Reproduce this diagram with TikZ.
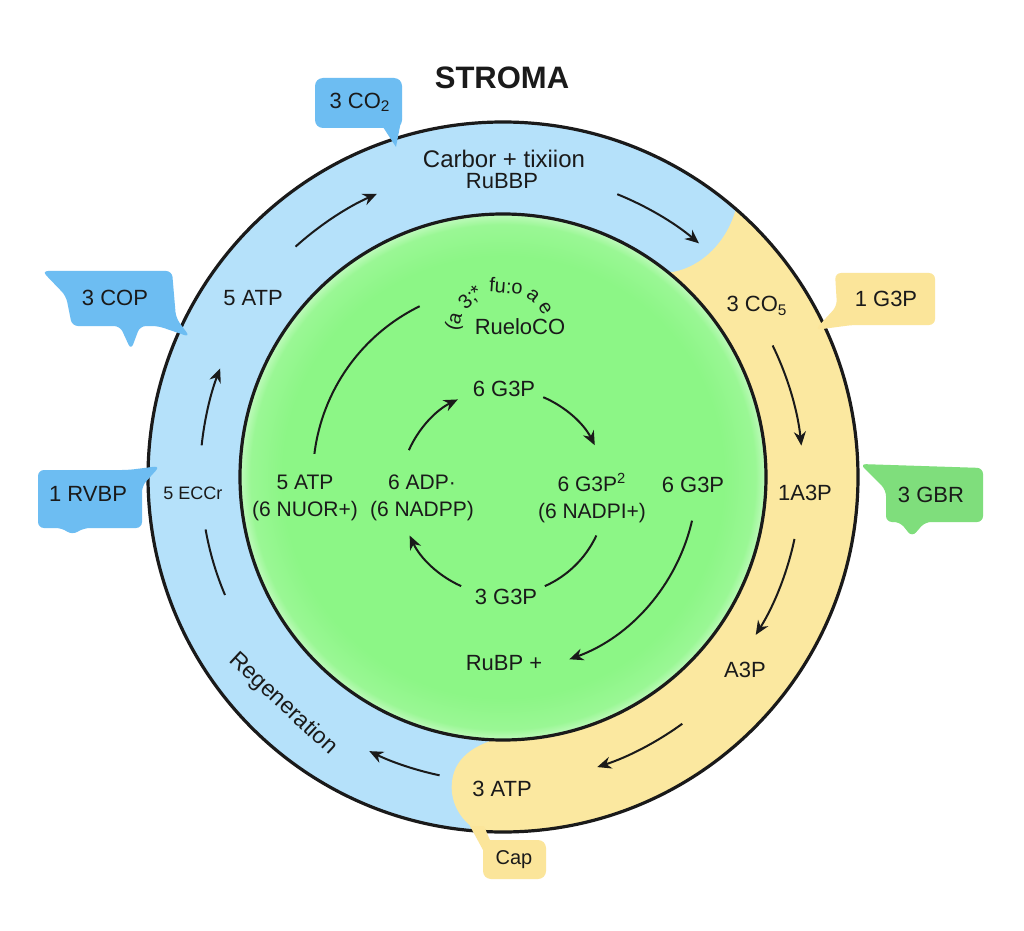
\documentclass[tikz,border=0pt]{standalone}
\usepackage{fontspec}
\setmainfont{Liberation Sans}
\usetikzlibrary{arrows.meta}
\definecolor{ringblue}{HTML}{B5E1FA}
\definecolor{ringyellow}{HTML}{FBE8A0}
\definecolor{calblue}{HTML}{6DBDF2}
\definecolor{calgreen}{HTML}{7FDE7C}
\definecolor{calyellow}{HTML}{FBE59A}
\definecolor{disk}{HTML}{8CF686}
\definecolor{ink}{HTML}{1A1A1A}
\pgfdeclareradialshading{diskglow}{\pgfpoint{0bp}{0bp}}{color(0bp)=(disk); color(21bp)=(disk); color(24bp)=(disk!88!white); color(25bp)=(disk!55!white); color(50bp)=(white)}
\begin{document}
\begin{tikzpicture}[x=0.5pt,y=-0.5pt,
  lbl/.style={font=\fontsize{11}{13.5}\selectfont, text=ink, inner sep=0pt, align=center},
  arctxt/.style={font=\fontsize{10}{12}\selectfont, text=ink, inner sep=0pt},
  arr/.style={line width=1pt, draw=ink, -{Stealth[length=7pt,width=6pt]}},
  plainarc/.style={line width=1pt, draw=ink},
  rim/.style={line width=1.6pt, draw=ink}]
\useasboundingbox (0,0) rectangle (1024,931);
\fill[white] (0,0) rectangle (1024,931);
\coordinate (C) at (503,477);
\coordinate (S) at (503,492);
% ring
\fill[ringblue, even odd rule] (C) circle[radius=355] (C) circle[radius=263];
\fill[ringyellow] ([shift={(C)}]-49:355) arc[start angle=-49, end angle=94.2, radius=355]
  .. controls (458,818) and (450,800) .. (452,782)
  .. controls (454,762) and (468,748) .. ([shift={(C)}]92:263)
  arc[start angle=92, end angle=-51, radius=263]
  .. controls (695,270) and (725,248) .. cycle;
\draw[rim] (C) circle[radius=355];
\shade[shading=diskglow] (C) circle[radius=263];
\draw[rim] (C) circle[radius=263];
% callouts
\fill[calblue, rounded corners=4pt] (315,78) rectangle (402,128);
\fill[calblue] (383,127) -- (402,116) -- (396,147) -- cycle;
\fill[calblue, rounded corners=3pt] (42,271) -- (172,271) -- (176,318) -- (190,337) -- (158,326) -- (140,326) -- (131,350) -- (120,326) -- (72,326) -- (66,296) -- cycle;
\fill[calblue, rounded corners=3pt] (38,470) -- (128,470) -- (160,466) -- (142,486) -- (142,528) -- (84,528) -- (72,535) -- (62,528) -- (38,528) -- cycle;
\fill[calyellow, rounded corners=3pt] (835,273) -- (935,273) -- (935,325) -- (852,325) -- (815,330) -- (837,306) -- cycle;
\fill[calgreen, rounded corners=3pt] (860,464) -- (983,468) -- (983,522) -- (925,522) -- (912,537) -- (900,522) -- (886,522) -- (886,490) -- cycle;
\fill[calyellow] (470,826) -- (484,826) -- (492,845) -- (483,850) -- cycle;
\fill[calyellow, rounded corners=4pt] (483,840) rectangle (546,879);
% ring arrows
\draw[arr] ([shift={(C)}]-132:310) arc[start angle=-132, end angle=-114, radius=310];
\draw[arr] ([shift={(C)}]-68:305) arc[start angle=-68, end angle=-50, radius=305];
\draw[arr] ([shift={(C)}]-26:300) arc[start angle=-26, end angle=-6, radius=300];
\draw[arr] ([shift={(C)}]12:298) arc[start angle=12, end angle=32, radius=298];
\draw[arr] ([shift={(C)}]54:305) arc[start angle=54, end angle=72, radius=305];
\draw[arr] ([shift={(C)}]102:305) arc[start angle=102, end angle=116, radius=305];
\draw[arr] ([shift={(C)}]-174:303) arc[start angle=-174, end angle=-159, radius=303];
\draw[plainarc] ([shift={(C)}]170:302) arc[start angle=170, end angle=157, radius=302];
% inner arrows
\draw[plainarc] ([shift={(C)}]-173:190) arc[start angle=-173, end angle=-116, radius=190];
\draw[arr] ([shift={(C)}]13:194) arc[start angle=13, end angle=70, radius=194];
\draw[arr] ([shift={(S)}]-156:103) arc[start angle=-156, end angle=-116, radius=103];
\draw[arr] ([shift={(S)}]-67:103) arc[start angle=-67, end angle=-27, radius=103];
\draw[plainarc] ([shift={(S)}]25:103) arc[start angle=25, end angle=66, radius=103];
\draw[arr] ([shift={(S)}]114:103) arc[start angle=114, end angle=155, radius=103];
% curved texts
\node[lbl, font=\fontsize{12}{14}\selectfont] (carb) at (504,159) {Carbor + tixiion};
\node[lbl, font=\fontsize{11.5}{14}\selectfont, rotate=-43] (regen) at (283,704) {Regeneration};
\node[arctxt, rotate=75] (arc1) at (455,322) {(a};
\node[arctxt, rotate=42] (arc2) at (471,298) {3;*};
\node[arctxt, rotate=-4] (arc3) at (506,286) {fu:o};
\node[arctxt, rotate=-38] (arc4) at (533,296) {a};
\node[arctxt, rotate=-58] (arc5) at (545,308) {e};
% labels
\node[font=\bfseries\fontsize{15.5}{18}\selectfont, text=ink, inner sep=0pt] (title) at (502,78) {STROMA};
\node[lbl] (tco2) at (360,102) {3 CO\textsubscript{2}};
\node[lbl] (tcop) at (115,298) {3 COP};
\node[lbl] (trvbp) at (88,494) {1 RVBP};
\node[lbl] (tg3p) at (886,299) {1 G3P};
\node[lbl] (tgbr) at (931,495) {3 GBR};
\node[lbl, font=\fontsize{10}{12}\selectfont] (tcap) at (514,860) {Cap};
\node[lbl] (rubbp) at (502,181) {RuBBP};
\node[lbl] (atp5) at (253,298) {5 ATP};
\node[lbl, font=\fontsize{9}{11}\selectfont] (ecc) at (193,493) {5 ECCr};
\node[lbl] (co5) at (757,306) {3 CO\textsubscript{5}};
\node[lbl] (a3p1) at (805,493) {1A3P};
\node[lbl] (a3p) at (745,670) {A3P};
\node[lbl] (atp3) at (502,789) {3 ATP};
\node[lbl] (rubisco) at (520,327) {RueloCO};
\node[lbl] (g3ptop) at (504,389) {6 G3P};
\node[lbl] (g3pbot) at (506,597) {3 G3P};
\node[lbl] (rubp) at (504,663) {RuBP +};
\node[lbl, font=\fontsize{10.5}{13.5}\selectfont] (leftpair) at (305,498) {5 ATP\\(6 NUOR+)};
\node[lbl, font=\fontsize{10.5}{13.5}\selectfont] (midleft) at (422,498) {6 ADP·\\(6 NADPP)};
\node[lbl, font=\fontsize{10.5}{13.5}\selectfont] (midright) at (592,498) {6 G3P\textsuperscript{2}\\(6 NADPI+)};
\node[lbl] (rightg3p) at (693,485) {6 G3P};
\end{tikzpicture}
\end{document}
